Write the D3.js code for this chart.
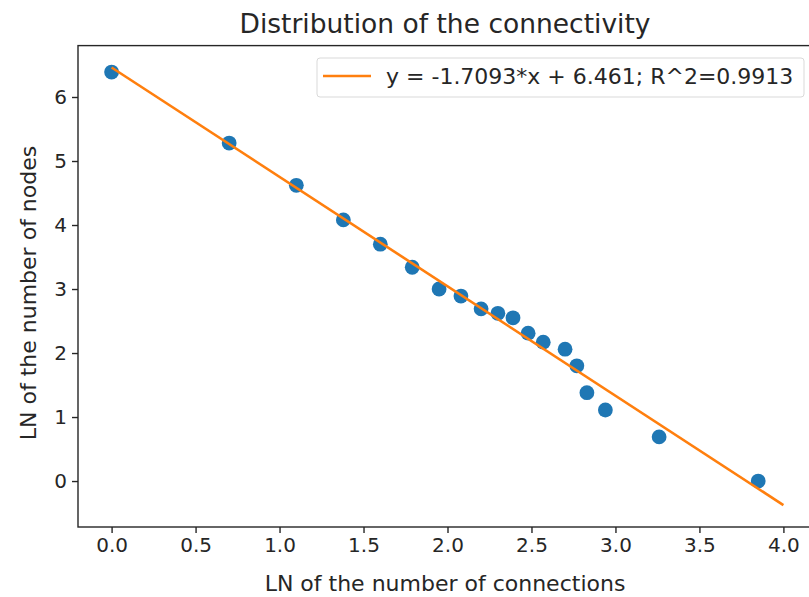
<!DOCTYPE html>
<html><head><meta charset="utf-8">
<script src="https://cdn.jsdelivr.net/npm/d3@7"></script>
<style>body{margin:0;background:#fff}svg{display:block}text{font-family:"DejaVu Sans",sans-serif;fill:#262626}</style>
</head><body>
<svg id="c" width="809" height="597"></svg>
<script>
const title = "Distribution of the connectivity";
const xLabel = "LN of the number of connections";
const yLabel = "LN of the number of nodes";
const legendLabel = "y = -1.7093*x + 6.461; R^2=0.9913";
const pointsX = [0, 0.70, 1.10, 1.38, 1.60, 1.79, 1.95, 2.08, 2.20, 2.30, 2.39, 2.48, 2.57, 2.70, 2.77, 2.83, 2.94, 3.26, 3.85];
const pointsY = [6.39, 5.28, 4.62, 4.08, 3.70, 3.34, 3.00, 2.89, 2.69, 2.62, 2.55, 2.31, 2.17, 2.06, 1.80, 1.38, 1.11, 0.69, 0.0];
const fitX = [0, 4.0];
const fitY = [6.461, -0.3762];
const xTicks = [0, 0.5, 1.0, 1.5, 2.0, 2.5, 3.0, 3.5, 4.0];
const yTicks = [0, 1, 2, 3, 4, 5, 6];

const svg = d3.select("#c");
const L = 78, R = 817, T = 45.6, B = 527;
const x = d3.scaleLinear().domain([-0.2, 4.2]).range([L, R]);
const y = d3.scaleLinear().domain([-0.718, 6.803]).range([B, T]);

const gx = svg.append("g").attr("transform", `translate(0,${B})`)
  .call(d3.axisBottom(x).tickValues(xTicks).tickFormat(d3.format(".1f")).tickSizeOuter(0).tickSize(6).tickPadding(5));
const gy = svg.append("g").attr("transform", `translate(${L},0)`)
  .call(d3.axisLeft(y).tickValues(yTicks).tickFormat(d3.format("d")).tickSizeOuter(0).tickSize(6).tickPadding(5));
[gx, gy].forEach(g => {
  g.select(".domain").remove();
  g.selectAll("line").attr("stroke", "#262626").attr("stroke-width", 1.4);
  g.selectAll("text").attr("font-family", "DejaVu Sans").attr("font-size", 20).attr("fill", "#262626");
});

const pts = pointsX.map((v, i) => [v, pointsY[i]]);
svg.append("g").selectAll("circle").data(pts).join("circle")
  .attr("cx", d => x(d[0])).attr("cy", d => y(d[1])).attr("r", 7.4).attr("fill", "#1f77b4");

const fit = fitX.map((v, i) => [v, fitY[i]]);
svg.append("path").datum(fit)
  .attr("d", d3.line().x(d => x(d[0])).y(d => y(d[1])))
  .attr("fill", "none").attr("stroke", "#ff7f0e").attr("stroke-width", 2.6);

svg.append("rect").attr("x", L).attr("y", T).attr("width", R - L).attr("height", B - T)
  .attr("fill", "none").attr("stroke", "#262626").attr("stroke-width", 1.4);

svg.append("text").attr("x", 445).attr("y", 33).attr("text-anchor", "middle").attr("font-size", 26.5).text(title);
svg.append("text").attr("x", 445).attr("y", 591).attr("text-anchor", "middle").attr("font-size", 22).text(xLabel);
svg.append("text").attr("transform", "translate(36,293) rotate(-90)").attr("text-anchor", "middle").attr("font-size", 22).text(yLabel);

const lg = svg.append("g");
lg.append("rect").attr("x", 317).attr("y", 58).attr("width", 487).attr("height", 39).attr("rx", 3)
  .attr("fill", "#fff").attr("fill-opacity", 0.8).attr("stroke", "#d9d9d9");
lg.append("line").attr("x1", 323).attr("x2", 371).attr("y1", 76).attr("y2", 76)
  .attr("stroke", "#ff7f0e").attr("stroke-width", 2.6);
lg.append("text").attr("x", 386).attr("y", 84).attr("font-size", 22).text(legendLabel);
</script>
</body></html>
